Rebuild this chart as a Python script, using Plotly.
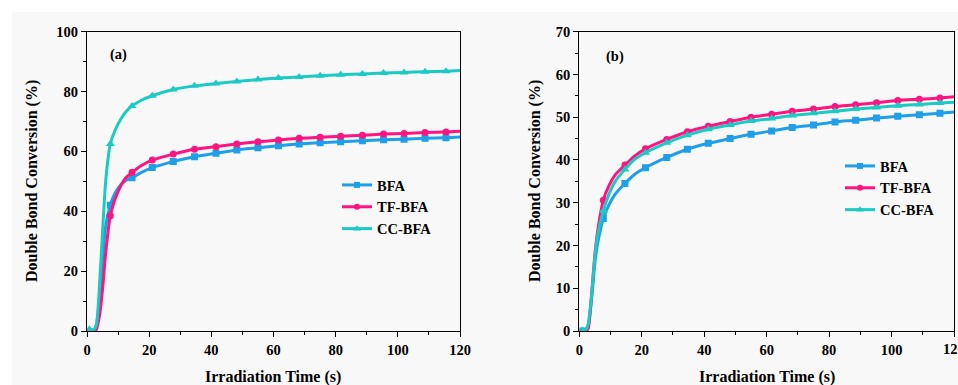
import plotly.graph_objects as go

# ---------------- data ----------------
series_names = ["BFA", "TF-BFA", "CC-BFA"]
x_ticks = [0, 20, 40, 60, 80, 100, 120]

# panel (a)
time_a = [0, 0.8, 2, 3, 4, 5, 6, 7.5, 9, 11, 12.5, 14.5, 17.5, 21, 27.75, 34.6, 41.5, 48.2,
          55, 61.6, 68.25, 75, 81.6, 88.6, 95.4, 102, 108.75, 115.5, 120]
marked_a = [0, 1, 0, 0, 0, 0, 0, 1, 0, 0, 0, 1, 0, 1, 1, 1, 1, 1,
            1, 1, 1, 1, 1, 1, 1, 1, 1, 1, 0]
bfa_a = [0, -0.3, 0, 2, 10, 24, 35, 42, 46, 49, 50.3, 51.2, 53, 54.6, 56.6, 58.2, 59.4, 60.5,
         61.2, 61.9, 62.5, 62.9, 63.2, 63.6, 63.9, 64.1, 64.4, 64.6, 64.8]
tf_a = [0, -0.5, -0.3, 0.5, 5, 14, 26, 38.5, 44, 48.8, 51.2, 53, 55.3, 57.1, 59.1, 60.7, 61.6, 62.5,
        63.2, 63.8, 64.4, 64.7, 65.1, 65.4, 65.8, 66.0, 66.3, 66.5, 66.7]
cc_a = [0, 0.6, 0.2, 2, 15, 33, 50, 62.5, 67, 71, 73.2, 75.2, 77.1, 78.6, 80.7, 81.9, 82.7, 83.4,
        84, 84.5, 84.9, 85.3, 85.6, 85.9, 86.2, 86.4, 86.6, 86.8, 87]

# panel (b)
time_b = [0, 1, 2, 2.8, 4, 5, 6, 7.7, 9.5, 11.5, 14.6, 17.5, 21.2, 28, 34.6, 41.3, 48.3, 55,
          61.6, 68.2, 75, 81.9, 88.5, 95.2, 102, 108.9, 115.5, 120]
marked_b = [0, 1, 0, 0, 0, 0, 0, 1, 0, 0, 1, 0, 1, 1, 1, 1, 1, 1,
            1, 1, 1, 1, 1, 1, 1, 1, 1, 0]
bfa_b = [0, 0, 0, 1, 8, 16, 21, 26.3, 29.5, 32, 34.5, 36.5, 38.2, 40.6, 42.5, 43.9, 45, 46,
         46.8, 47.6, 48.2, 48.9, 49.3, 49.8, 50.2, 50.6, 50.9, 51.2]
tf_b = [0, -0.3, 0, 0.5, 9, 18, 24, 30.6, 34, 36.5, 38.8, 40.8, 42.6, 44.8, 46.6, 47.9, 49, 50,
        50.7, 51.4, 51.9, 52.5, 52.9, 53.4, 53.9, 54.2, 54.5, 54.8]
cc_b = [0, 0.2, 0.3, 1.5, 9, 17.5, 23, 28.1, 32, 35, 37.8, 40, 41.7, 44, 45.8, 47.2, 48.2, 49.1,
        49.7, 50.4, 50.9, 51.4, 51.9, 52.3, 52.7, 53, 53.3, 53.5]

# ---------------- style ----------------
colors = ["#1e9fe8", "#ff1480", "#1ccac4"]
symbols = ["square", "circle", "triangle-up"]
sizes = [7, 7, 8]
FONT = "Liberation Serif"

fig = go.Figure()


def add_panel(t, marked, ys, xref, yref, legend):
    for name, y, c, s, ms in zip(series_names, ys, colors, symbols, sizes):
        fig.add_trace(go.Scatter(
            x=t, y=y, mode="lines", line=dict(color=c, width=3, shape="spline", smoothing=0.6),
            xaxis=xref, yaxis=yref, showlegend=False, hoverinfo="skip"))
        mx = [tt for tt, m in zip(t, marked) if m]
        my = [yy for yy, m in zip(y, marked) if m]
        fig.add_trace(go.Scatter(
            x=mx, y=my, mode="markers", marker=dict(color=c, symbol=s, size=ms),
            xaxis=xref, yaxis=yref, showlegend=False))
        fig.add_trace(go.Scatter(
            x=[None], y=[None], mode="lines+markers", name=name,
            line=dict(color=c, width=3), marker=dict(color=c, symbol=s, size=ms - 1),
            xaxis=xref, yaxis=yref, legend=legend))


add_panel(time_a, marked_a, [bfa_a, tf_a, cc_a], "x", "y", "legend")
add_panel(time_b, marked_b, [bfa_b, tf_b, cc_b], "x2", "y2", "legend2")

W, H = 958, 385
y_dom = [1 - 331 / H, 1 - 31.7 / H]

tick_font = dict(family=FONT, size=14.5, color="black", weight="bold")
axis_common = dict(
    showline=True, linecolor="black", linewidth=1.3, mirror=True,
    ticks="outside", ticklen=5, tickwidth=1.3, tickcolor="black",
    showgrid=False, zeroline=False, automargin=False,
    tickfont=tick_font,
)
minor_x = dict(dtick=10, tick0=0, ticks="outside", ticklen=3, tickwidth=1.3, tickcolor="black")

fig.update_layout(
    width=W, height=H,
    margin=dict(l=0, r=0, t=0, b=0, autoexpand=False),
    paper_bgcolor="white", plot_bgcolor="rgba(0,0,0,0)",
    font=dict(family=FONT, color="black"),
    xaxis=dict(domain=[87 / W, 460 / W], range=[0, 120], tickvals=x_ticks,
               minor=minor_x, anchor="y", **axis_common),
    yaxis=dict(domain=y_dom, range=[0, 100], dtick=20,
               minor=dict(dtick=10, tick0=0, ticks="outside", ticklen=3, tickwidth=1.3, tickcolor="black"),
               anchor="x", **axis_common),
    xaxis2=dict(domain=[579.3 / W, 954 / W], range=[0, 120], tickvals=x_ticks,
                minor=minor_x, anchor="y2", **axis_common),
    yaxis2=dict(domain=y_dom, range=[0, 70], dtick=10,
                minor=dict(dtick=5, tick0=0, ticks="outside", ticklen=3, tickwidth=1.3, tickcolor="black"),
                anchor="x2", **axis_common),
    legend=dict(x=337 / W, y=1 - 169 / H, xanchor="left", yanchor="top",
                bgcolor="rgba(0,0,0,0)", tracegroupgap=0,
                font=dict(family=FONT, size=14.5, color="black", weight="bold")),
    legend2=dict(x=840 / W, y=1 - 150 / H, xanchor="left", yanchor="top",
                 bgcolor="rgba(0,0,0,0)", tracegroupgap=0,
                 font=dict(family=FONT, size=14.5, color="black", weight="bold")),
    shapes=[dict(type="rect", xref="paper", yref="paper", x0=12 / W, x1=1, y0=0, y1=1 - 12 / H,
                 fillcolor="#f8f8f8", line=dict(width=0), layer="below")],
)

title_font = dict(family=FONT, size=16, color="black", weight="bold")
label_font = dict(family=FONT, size=14.5, color="black", weight="bold")
annotations = [
    dict(text="Double Bond Conversion (%)", x=32 / W, y=1 - 181 / H, textangle=-90, font=title_font),
    dict(text="Double Bond Conversion (%)", x=535 / W, y=1 - 181 / H, textangle=-90, font=title_font),
    dict(text="Irradiation Time (s)", x=273 / W, y=1 - 377 / H, font=title_font),
    dict(text="Irradiation Time (s)", x=767 / W, y=1 - 377 / H, font=title_font),
    dict(text="(a)", x=118 / W, y=1 - 55 / H, font=label_font),
    dict(text="(b)", x=615 / W, y=1 - 57 / H, font=label_font),
]
for a in annotations:
    a.update(xref="paper", yref="paper", showarrow=False, xanchor="center", yanchor="middle")
# last tick label of panel (b), which runs off the right edge of the page
annotations.append(dict(text=str(x_ticks[-1]), x=x_ticks[-1], xref="x2", y=1 - 349 / H, yref="paper",
                        showarrow=False, xanchor="center", yanchor="middle", font=tick_font))
fig.update_layout(annotations=annotations)

fig.write_html("out.html")
